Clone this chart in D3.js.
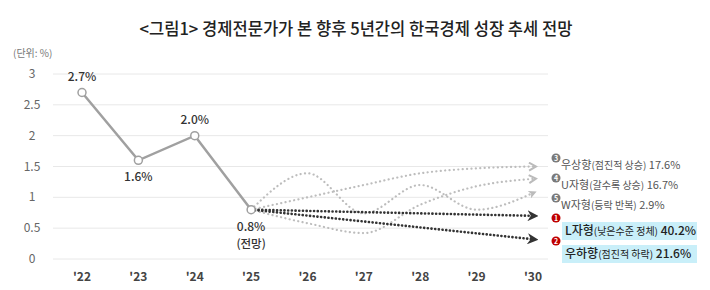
<!DOCTYPE html>
<html>
<head>
<meta charset="utf-8">
<script src="https://cdn.jsdelivr.net/npm/d3@7/dist/d3.min.js"></script>
<style>
  body { margin: 0; background: #fff; }
  text { font-family: "Noto Sans CJK KR", "Noto Sans", sans-serif; }
</style>
</head>
<body>
<script>
// data
var years = ["'22", "'23", "'24", "'25", "'26", "'27", "'28", "'29", "'30"];
var actual = [2.7, 1.6, 2.0, 0.8];
var actualLabels = ["2.7%", "1.6%", "2.0%", "0.8%"];
var yTicks = [0, 0.5, 1, 1.5, 2, 2.5, 3];

// forecast paths from '25 to '30 (null = no point)
var upward = [0.8, 1.0, 1.2, 1.39, 1.47, 1.5];
var uShape = [0.8, 0.58, 0.42, 0.88, 1.18, 1.3];
var wShape = [0.8, 1.39, 0.74, 1.2, 0.8, 1.07];
var lShape = [0.8, null, null, null, null, 0.7];
var downward = [0.8, null, null, null, null, 0.32];

var legendNames = ["우상향", "U자형", "W자형", "L자형", "우하향"];
var legendNotes = ["(점진적 상승)", "(갈수록 상승)", "(등락 반복)", "(낮은수준 정체)", "(점진적 하락)"];
var legendShares = ["17.6%", "16.7%", "2.9%", "40.2%", "21.6%"];
var legendNums = ["3", "4", "5", "1", "2"];

var width = 710, height = 290;

var svg = d3.select("body").append("svg")
  .attr("width", width)
  .attr("height", height);

var x = d3.scaleLinear().domain([0, 8]).range([82, 533]);
var y = d3.scaleLinear().domain([0, 3]).range([259, 74]);

// title
svg.append("text")
  .attr("x", 356).attr("y", 35)
  .attr("text-anchor", "middle")
  .attr("textLength", 433)
  .attr("lengthAdjust", "spacingAndGlyphs")
  .style("font-size", "17px")
  .style("font-weight", 500)
  .style("fill", "#222")
  .text("<그림1> 경제전문가가 본 향후 5년간의 한국경제 성장 추세 전망");

svg.append("text")
  .attr("x", 13).attr("y", 57)
  .style("font-size", "10px")
  .style("fill", "#777")
  .text("(단위: %)");

// grid
svg.append("g").selectAll("line")
  .data(yTicks)
  .join("line")
  .attr("x1", 53).attr("x2", 548)
  .attr("y1", function (d) { return y(d); })
  .attr("y2", function (d) { return y(d); })
  .attr("stroke", "#e8e8e8")
  .attr("stroke-width", 1);

// y axis labels
svg.append("g").selectAll("text")
  .data(yTicks)
  .join("text")
  .attr("x", 32)
  .attr("y", function (d) { return y(d) + 4; })
  .attr("text-anchor", "middle")
  .style("font-size", "12px")
  .style("fill", "#666")
  .text(function (d) { return d; });

// x axis labels
svg.append("g").selectAll("text")
  .data(years)
  .join("text")
  .attr("x", function (d, i) { return x(i); })
  .attr("y", 281)
  .attr("text-anchor", "middle")
  .style("font-size", "12px")
  .style("font-weight", 700)
  .style("fill", "#444")
  .text(function (d) { return d; });

// arrow markers
var defs = svg.append("defs");
defs.append("marker").attr("id", "chevGray")
  .attr("viewBox", "0 0 10 10").attr("refX", 5).attr("refY", 5)
  .attr("markerWidth", 10).attr("markerHeight", 10)
  .attr("markerUnits", "userSpaceOnUse").attr("orient", "auto")
  .append("path").attr("d", "M1,1 L8,5 L1,9")
  .attr("fill", "none").attr("stroke", "#bbb").attr("stroke-width", 2);
defs.append("marker").attr("id", "triGray")
  .attr("viewBox", "0 0 10 10").attr("refX", 5).attr("refY", 5)
  .attr("markerWidth", 10).attr("markerHeight", 10)
  .attr("markerUnits", "userSpaceOnUse").attr("orient", "auto")
  .append("path").attr("d", "M1,1 L9,5 L1,9 L3,5 Z")
  .attr("fill", "#bbb");
defs.append("marker").attr("id", "arrDark")
  .attr("viewBox", "0 0 10 10").attr("refX", 5).attr("refY", 5)
  .attr("markerWidth", 11).attr("markerHeight", 11)
  .attr("markerUnits", "userSpaceOnUse").attr("orient", "auto")
  .append("path").attr("d", "M0,0 L10,5 L0,10 L3,5 Z")
  .attr("fill", "#333");

// forecast lines
var line = d3.line()
  .x(function (d) { return x(d[0]); })
  .y(function (d) { return y(d[1]); })
  .curve(d3.curveMonotoneX);

function pts(arr) {
  return arr.map(function (v, i) { return [i + 3, v]; })
    .filter(function (d) { return d[1] !== null; });
}

var forecasts = [
  { vals: wShape, color: "#bdbdbd", w: 2.2, dash: "0.1,4.3", marker: "triGray" },
  { vals: uShape, color: "#bdbdbd", w: 2.2, dash: "0.1,4.3", marker: "chevGray" },
  { vals: upward, color: "#bdbdbd", w: 2.2, dash: "0.1,4.3", marker: "chevGray" },
  { vals: downward, color: "#333", w: 2.6, dash: "0.1,3.6", marker: "arrDark" },
  { vals: lShape, color: "#333", w: 2.6, dash: "0.1,3.6", marker: "arrDark" }
];

svg.append("g").selectAll("path")
  .data(forecasts)
  .join("path")
  .attr("d", function (d) { return line(pts(d.vals)); })
  .attr("fill", "none")
  .attr("stroke", function (d) { return d.color; })
  .attr("stroke-width", function (d) { return d.w; })
  .attr("stroke-linecap", "round")
  .attr("stroke-dasharray", function (d) { return d.dash; })
  .attr("marker-end", function (d) { return "url(#" + d.marker + ")"; });

// actual line
var histLine = d3.line()
  .x(function (d, i) { return x(i); })
  .y(function (d) { return y(d); });

svg.append("path")
  .datum(actual)
  .attr("d", histLine)
  .attr("fill", "none")
  .attr("stroke", "#a0a0a0")
  .attr("stroke-width", 2.5);

svg.append("g").selectAll("circle")
  .data(actual)
  .join("circle")
  .attr("cx", function (d, i) { return x(i); })
  .attr("cy", function (d) { return y(d); })
  .attr("r", 4)
  .attr("fill", "#fff")
  .attr("stroke", "#a0a0a0")
  .attr("stroke-width", 1.5);

// data labels
var labelDy = [-12, 21, -12, 21];
svg.append("g").selectAll("text")
  .data(actual)
  .join("text")
  .attr("x", function (d, i) { return x(i); })
  .attr("y", function (d, i) { return y(d) + labelDy[i]; })
  .attr("text-anchor", "middle")
  .style("font-size", "12px")
  .style("font-weight", 500)
  .style("fill", "#333")
  .text(function (d, i) { return actualLabels[i]; });

svg.append("text")
  .attr("x", x(3)).attr("y", y(0.8) + 38)
  .attr("text-anchor", "middle")
  .style("font-size", "11.5px")
  .style("font-weight", 500)
  .style("fill", "#333")
  .text("(전망)");

// legend
var legendY = [165, 185, 205, 231, 254];
var items = legendNames.map(function (n, i) {
  return { name: n, note: legendNotes[i], share: legendShares[i], num: legendNums[i], y: legendY[i], main: i >= 3 };
});

var lg = svg.append("g").selectAll("g")
  .data(items)
  .join("g");

lg.filter(function (d) { return d.main; })
  .append("rect")
  .attr("x", 562).attr("width", 135)
  .attr("y", function (d) { return d.y - 9; })
  .attr("height", 18)
  .attr("fill", "#c9eff9");

lg.append("circle")
  .attr("cx", 556)
  .attr("cy", function (d) { return d.main ? d.y - 13 : d.y - 7; })
  .attr("r", 4.5)
  .attr("fill", function (d) { return d.main ? "#c00000" : "#7a7a7a"; });

lg.append("text")
  .attr("x", 556)
  .attr("y", function (d) { return (d.main ? d.y - 13 : d.y - 7) + 3; })
  .attr("text-anchor", "middle")
  .style("font-size", "7px")
  .style("font-weight", 700)
  .style("fill", "#fff")
  .text(function (d) { return d.num; });

var lt = lg.append("text")
  .attr("x", function (d) { return d.main ? 565 : 561; })
  .attr("y", function (d) { return d.y + 4; })
  .style("fill", function (d) { return d.main ? "#222" : "#555"; });

lt.append("tspan")
  .style("font-size", function (d) { return d.main ? "12px" : "11px"; })
  .style("font-weight", function (d) { return d.main ? 500 : 400; })
  .text(function (d) { return d.name; });
lt.append("tspan")
  .style("font-size", "10px")
  .text(function (d) { return d.note; });
lt.append("tspan")
  .style("font-size", function (d) { return d.main ? "12px" : "11px"; })
  .style("font-weight", function (d) { return d.main ? 500 : 400; })
  .text(function (d) { return " " + d.share; });
</script>
</body>
</html>
